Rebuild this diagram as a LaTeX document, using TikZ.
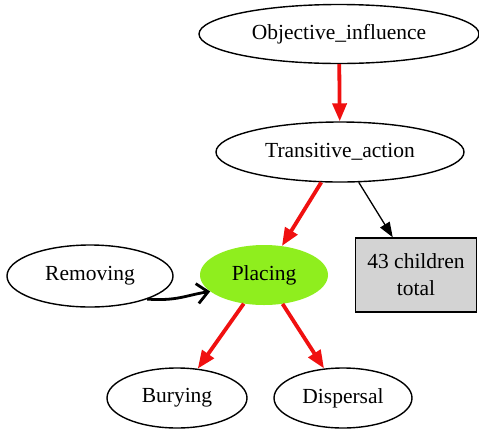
\documentclass[tikz,border=0pt]{standalone}
\usepackage{fontspec}
\setmainfont{Liberation Serif}
\usetikzlibrary{shapes.geometric,arrows.meta}
\definecolor{plgreen}{HTML}{8FEE1E}
\definecolor{boxgray}{HTML}{D3D3D3}
\definecolor{edgered}{HTML}{F01010}
\tikzset{
  ell/.style={ellipse,draw=black,line width=1.4pt,inner sep=0pt,font=\fontsize{21.5}{24}\selectfont},
  rededge/.style={draw=edgered,line width=3.8pt,-{Triangle[length=18pt,width=14pt]}},
  thinedge/.style={draw=black,line width=1.3pt,-{Triangle[length=15pt,width=11pt]}},
  curveedge/.style={draw=black,line width=2.8pt,-{Straight Barb[length=11pt,width=20pt,line width=2.8pt]}},
}
\begin{document}
\begin{tikzpicture}[x=1pt,y=-1pt]
\useasboundingbox (0,0) rectangle (479,432);
\node[ell,minimum width=280pt,minimum height=59pt] (obj) at (339,34) {Objective\_influence};
\node[ell,minimum width=248pt,minimum height=60pt] (trans) at (340,152) {Transitive\_action};
\node[ell,minimum width=166pt,minimum height=62pt] (rem) at (90,276) {Removing};
\node[ellipse,fill=plgreen,inner sep=0pt,minimum width=128pt,minimum height=60pt,font=\fontsize{21.5}{24}\selectfont] (plac) at (264,275) {Placing};
\node[draw=black,fill=boxgray,line width=1.4pt,minimum width=121pt,minimum height=74pt,align=center,font=\fontsize{21.5}{27}\selectfont] (box) at (416,275) {43 children\\total};
\node[ell,minimum width=140pt,minimum height=60pt] (bur) at (177,398) {Burying};
\node[ell,minimum width=138pt,minimum height=60pt] (disp) at (343,398) {Dispersal};
\draw[rededge] (obj) -- (trans);
\draw[rededge] (trans) -- (plac);
\draw[thinedge] (trans) -- (box);
\draw[rededge] (plac) -- (bur);
\draw[rededge] (plac) -- (disp);
\draw[curveedge] (rem.-22) .. controls +(30,2) and +(-25,4) .. (plac.197);
\end{tikzpicture}
\end{document}
